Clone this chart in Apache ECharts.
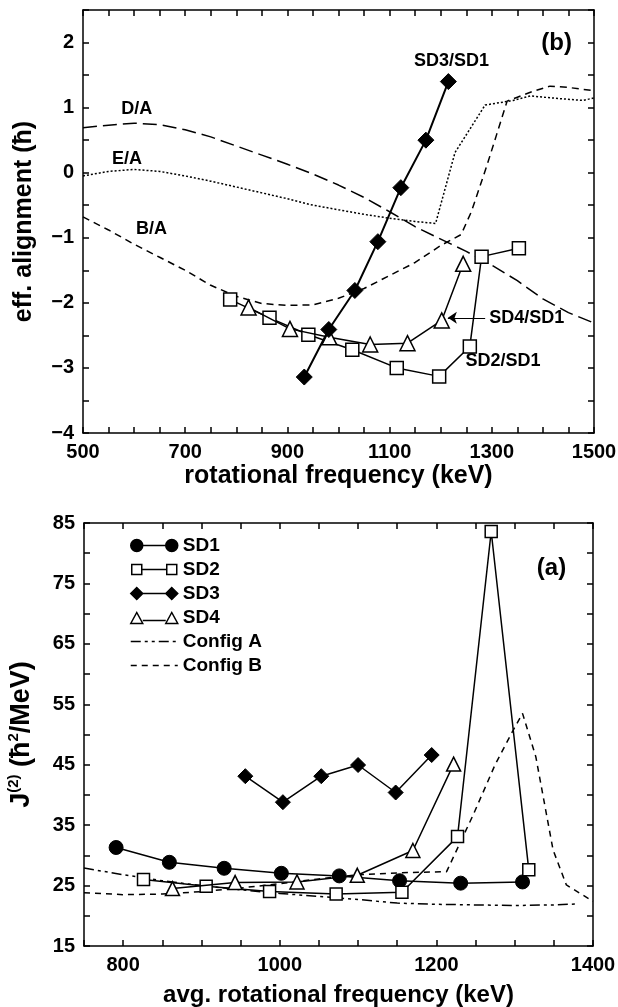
<!DOCTYPE html>
<html>
<head>
<meta charset="utf-8">
<script src="https://cdn.jsdelivr.net/npm/echarts@6/dist/echarts.min.js"></script>
<style>html,body{margin:0;padding:0;background:#fff}#c{width:618px;height:1007px}</style>
</head>
<body>
<div id="c"></div>
<script>
// ---------- Panel (b): effective alignment ----------
const sd2sd1 = [[788,-1.95],[865,-2.23],[941,-2.49],[1027,-2.72],[1114,-3.0],[1197,-3.13],[1257,-2.67],[1280,-1.29],[1353,-1.16]];
const sd4sd1 = [[824,-2.07],[905,-2.4],[982,-2.53],[1062,-2.64],[1135,-2.62],[1202,-2.27],[1244,-1.4]];
const sd3sd1 = [[933,-3.14],[981,-2.41],[1032,-1.81],[1077,-1.06],[1122,-0.23],[1171,0.5],[1215,1.4]];
const curveDA = [[500,0.69],[550,0.73],[600,0.76],[650,0.74],[700,0.66],[750,0.55],[800,0.41],[850,0.27],[900,0.13],[950,-0.02],[1000,-0.19],[1050,-0.38],[1100,-0.6],[1150,-0.83],[1200,-1.02],[1250,-1.21],[1300,-1.42],[1350,-1.66],[1400,-1.94],[1450,-2.15],[1500,-2.31]];
const curveEA = [[500,-0.05],[550,0.02],[600,0.05],[650,0.02],[700,-0.05],[750,-0.13],[800,-0.22],[850,-0.31],[900,-0.4],[944,-0.49],[1000,-0.57],[1050,-0.64],[1100,-0.7],[1150,-0.75],[1190,-0.78],[1228,0.31],[1287,1.04],[1342,1.11],[1375,1.18],[1430,1.14],[1479,1.11],[1500,1.15]];
const curveBA = [[500,-0.68],[550,-0.88],[600,-1.1],[650,-1.3],[700,-1.5],[750,-1.73],[800,-1.9],[850,-2.01],[900,-2.04],[950,-2.03],[1000,-1.93],[1050,-1.78],[1100,-1.58],[1150,-1.38],[1200,-1.12],[1240,-0.95],[1260,-0.6],[1290,0.1],[1310,0.6],[1330,1.1],[1350,1.16],[1380,1.25],[1414,1.33],[1450,1.31],[1500,1.26]];
const topXLabels = [500,700,900,1100,1300,1500];
const topYLabels = [-4,-3,-2,-1,0,1,2];

// ---------- Panel (a): J(2) ----------
const sd1 = [[791,31.3],[859,28.85],[929,27.86],[1002,27.03],[1076,26.6],[1153,25.8],[1231,25.4],[1310,25.6]];
const sd2 = [[826,26.0],[906,24.9],[987,24.0],[1072,23.6],[1156,23.9],[1227,33.1],[1270,83.6],[1318,27.6]];
const sd3 = [[956,43.1],[1004,38.8],[1053,43.1],[1100,44.95],[1148,40.4],[1194,46.6]];
const sd4 = [[863,24.5],[943,25.5],[1022,25.6],[1099,26.7],[1170,30.8],[1222,45.1]];
const configA = [[750,27.9],[800,26.8],[850,25.8],[900,25.0],[950,24.3],[1000,23.7],[1050,23.2],[1100,22.7],[1150,22.1],[1200,21.9],[1250,21.8],[1300,21.7],[1350,21.8],[1380,21.95]];
const configB = [[750,23.8],[800,23.5],[850,23.6],[900,24.0],[950,24.6],[1000,25.3],[1050,26.1],[1100,26.8],[1150,27.1],[1213,27.3],[1247,36.7],[1275,45.0],[1298,50.7],[1310,53.5],[1327,46.3],[1349,30.9],[1366,25.1],[1400,22.4]];
const botXLabels = [800,1000,1200,1400];
const botYLabels = [15,25,35,45,55,65,75,85];

const FONT = '"Liberation Sans", Arial, Helvetica, sans-serif';
const BLACK = '#000';
const axisLineStyle = {color: BLACK, width: 1.5};
const labelBase = {show: true, color: BLACK, fontSize: 20, fontWeight: 'bold', fontFamily: FONT};
const nameStyle = {color: BLACK, fontSize: 25, fontWeight: 'bold', fontFamily: FONT};
const fmtNum = v => String(v).replace('-', '\u2212');

function mkAxis(o) {
  return Object.assign({
    type: 'value', splitLine: {show: false}, nameMoveOverlap: false,
    axisLine: {show: true, onZero: false, lineStyle: axisLineStyle},
    axisTick: {show: true, inside: true, length: 6, lineStyle: axisLineStyle},
    axisLabel: {show: false}
  }, o);
}
function lbl(list, margin) {
  return Object.assign({}, labelBase, {margin: margin, formatter: v => list.some(t => Math.abs(t - v) < 1e-9) ? fmtNum(v) : ''});
}
const annot = (text, coord, size) => ({
  symbol: 'circle', symbolSize: 0, silent: true,
  label: {show: true, position: 'inside', color: BLACK, fontSize: size || 18, fontWeight: 'bold', fontFamily: FONT, formatter: text},
  data: [{coord: coord}]
});
const hollow = {color: '#fff', borderColor: BLACK, borderWidth: 1.5};
const solid = {color: BLACK, borderColor: BLACK, borderWidth: 1};
const ln = (w, t) => ({color: BLACK, width: w, type: t || 'solid'});

const chart = echarts.init(document.getElementById('c'), null, {renderer: 'canvas'});
chart.setOption({
  animation: false,
  backgroundColor: '#fff',
  grid: [
    {left: 83, top: 10, width: 511, height: 423, containLabel: false, outerBoundsMode: 'none'},
    {left: 84, top: 523, width: 509, height: 423, containLabel: false, outerBoundsMode: 'none'}
  ],
  xAxis: [
    mkAxis({gridIndex: 0, position: 'bottom', min: 500, max: 1500, interval: 50, axisLabel: lbl(topXLabels, 9),
      name: 'rotational frequency (keV)', nameLocation: 'middle', nameGap: 31, nameTextStyle: nameStyle}),
    mkAxis({gridIndex: 0, position: 'top', min: 500, max: 1500, interval: 50}),
    mkAxis({gridIndex: 1, position: 'bottom', min: 750, max: 1400, interval: 50, axisLabel: lbl(botXLabels, 9),
      name: 'avg. rotational frequency (keV)', nameLocation: 'middle', nameGap: 37,
      nameTextStyle: Object.assign({}, nameStyle, {fontSize: 24})}),
    mkAxis({gridIndex: 1, position: 'top', min: 750, max: 1400, interval: 50})
  ],
  yAxis: [
    mkAxis({gridIndex: 0, position: 'left', min: -4, max: 2.5, interval: 0.5, axisLabel: lbl(topYLabels, 9),
      name: 'eff. alignment (ħ)', nameLocation: 'middle', nameRotate: 90, nameGap: 46, nameTextStyle: nameStyle}),
    mkAxis({gridIndex: 0, position: 'right', min: -4, max: 2.5, interval: 0.5}),
    mkAxis({gridIndex: 1, position: 'left', min: 15, max: 85, interval: 5, axisLabel: lbl(botYLabels, 9),
      name: '{a|J}{s|(2)}{a| (ħ}{s|2}{a|/MeV)}', nameLocation: 'middle', nameRotate: 90, nameGap: 46,
      nameTextStyle: Object.assign({}, nameStyle, {rich: {
        a: {fontSize: 27, fontWeight: 'bold', fontFamily: FONT, color: BLACK, lineHeight: 32},
        s: {fontSize: 15, fontWeight: 'bold', fontFamily: FONT, color: BLACK, lineHeight: 11, verticalAlign: 'top'}
      }})}),
    mkAxis({gridIndex: 1, position: 'right', min: 15, max: 85, interval: 5})
  ],
  legend: {
    show: true, orient: 'vertical', left: 130, top: 536, itemWidth: 47, itemHeight: 12, itemGap: 5,
    selectedMode: false, padding: 0,
    textStyle: {color: BLACK, fontSize: 19, fontWeight: 'bold', fontFamily: FONT, lineHeight: 14},
    data: [
      {name: 'SD1', icon: 'path://M0,6a6,6 0 1,0 12,0a6,6 0 1,0 -12,0z M12,6L35,6 M35,6a6,6 0 1,0 12,0a6,6 0 1,0 -12,0z', itemStyle: {color: BLACK, borderColor: BLACK, borderWidth: 1.5}},
      {name: 'SD2', icon: 'path://M1,1L11,1L11,11L1,11z M11,6L36,6 M36,1L46,1L46,11L36,11z M0,0 M47,12', itemStyle: {color: '#fff', borderColor: BLACK, borderWidth: 1.5}},
      {name: 'SD3', icon: 'path://M0,6L6,0L12,6L6,12z M12,6L35,6 M35,6L41,0L47,6L41,12z', itemStyle: {color: BLACK, borderColor: BLACK, borderWidth: 1.5}},
      {name: 'SD4', icon: 'path://M0,12L6,1L12,12z M12,9L35,9 M35,12L41,1L47,12z M0,0', itemStyle: {color: '#fff', borderColor: BLACK, borderWidth: 1.5}},
      {name: 'Config A', itemStyle: {opacity: 0}, lineStyle: {color: BLACK, width: 1.5, type: [10,4,3,4,3,4]}},
      {name: 'Config B', itemStyle: {opacity: 0}, lineStyle: {color: BLACK, width: 1.5, type: [6,5]}}
    ]
  },
  series: [
    // panel (b)
    {name: 'D/A', type: 'line', xAxisIndex: 0, yAxisIndex: 0, data: curveDA, symbol: 'none', lineStyle: ln(1.5, [14,6]), z: 2,
      markPoint: annot('D/A', [605, 0.98])},
    {name: 'E/A', type: 'line', xAxisIndex: 0, yAxisIndex: 0, data: curveEA, symbol: 'none', lineStyle: ln(1.5, [2,2]), z: 2,
      markPoint: annot('E/A', [586, 0.21])},
    {name: 'B/A', type: 'line', xAxisIndex: 0, yAxisIndex: 0, data: curveBA, symbol: 'none', lineStyle: ln(1.5, [7,5]), z: 2,
      markPoint: annot('B/A', [634, -0.86])},
    {name: 'SD2/SD1', type: 'line', xAxisIndex: 0, yAxisIndex: 0, data: sd2sd1, symbol: 'rect', symbolSize: 13, showAllSymbol: true,
      itemStyle: hollow, lineStyle: ln(1.5), z: 3,
      markPoint: {symbol: 'circle', symbolSize: 0, silent: true, data: [
        {coord: [1322, -2.89], label: {show: true, position: 'inside', color: BLACK, fontSize: 18, fontWeight: 'bold', fontFamily: FONT, formatter: 'SD2/SD1'}},
        {coord: [1427, 1.99], label: {show: true, position: 'inside', color: BLACK, fontSize: 24, fontWeight: 'bold', fontFamily: FONT, formatter: '(b)'}}
      ]}},
    {name: 'SD4/SD1', type: 'line', xAxisIndex: 0, yAxisIndex: 0, data: sd4sd1, symbol: 'triangle', symbolSize: 15, showAllSymbol: true,
      itemStyle: hollow, lineStyle: ln(1.5), z: 4,
      markLine: {silent: true, symbol: ['arrow', 'none'], symbolSize: [9, 9],
        lineStyle: {color: BLACK, width: 1.2, type: 'solid'},
        label: {show: true, position: 'end', distance: 4, color: BLACK, fontSize: 18, fontWeight: 'bold', fontFamily: FONT, formatter: 'SD4/SD1'},
        data: [[{coord: [1214, -2.23]}, {coord: [1287, -2.23]}]]}},
    {name: 'SD3/SD1', type: 'line', xAxisIndex: 0, yAxisIndex: 0, data: sd3sd1, symbol: 'diamond', symbolSize: 16, showAllSymbol: true,
      itemStyle: solid, lineStyle: ln(2), z: 5,
      markPoint: annot('SD3/SD1', [1221, 1.71])},
    // panel (a)
    {name: 'Config A', type: 'line', xAxisIndex: 2, yAxisIndex: 2, data: configA, symbol: 'none', lineStyle: ln(1.5, [10,4,3,4,3,4]), z: 2},
    {name: 'Config B', type: 'line', xAxisIndex: 2, yAxisIndex: 2, data: configB, symbol: 'none', lineStyle: ln(1.5, [6,5]), z: 2},
    {name: 'SD1', type: 'line', xAxisIndex: 2, yAxisIndex: 2, data: sd1, symbol: 'circle', symbolSize: 14, showAllSymbol: true,
      itemStyle: solid, lineStyle: ln(1.5), z: 3},
    {name: 'SD2', type: 'line', xAxisIndex: 2, yAxisIndex: 2, data: sd2, symbol: 'rect', symbolSize: 12, showAllSymbol: true,
      itemStyle: hollow, lineStyle: ln(1.5), z: 4,
      markPoint: annot('(a)', [1347, 77.5], 24)},
    {name: 'SD3', type: 'line', xAxisIndex: 2, yAxisIndex: 2, data: sd3, symbol: 'diamond', symbolSize: 15, showAllSymbol: true,
      itemStyle: solid, lineStyle: ln(1.5), z: 4},
    {name: 'SD4', type: 'line', xAxisIndex: 2, yAxisIndex: 2, data: sd4, symbol: 'triangle', symbolSize: 14, showAllSymbol: true,
      itemStyle: hollow, lineStyle: ln(1.5), z: 5}
  ]
});
</script>
</body>
</html>
